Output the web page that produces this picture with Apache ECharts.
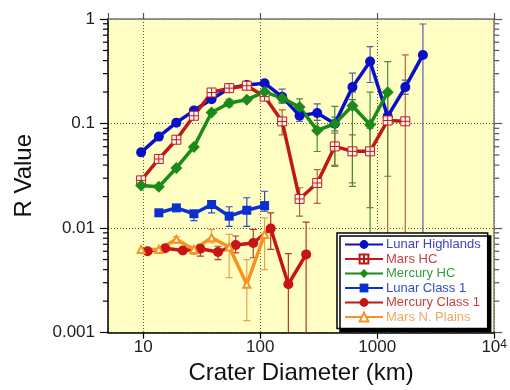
<!DOCTYPE html>
<html>
<head>
<meta charset="utf-8">
<script src="https://cdn.jsdelivr.net/npm/echarts@6/dist/echarts.min.js"></script>
<style>
  html, body { margin: 0; padding: 0; background: #fff; }
  #chart { width: 510px; height: 390px; }
</style>
</head>
<body>
<div id="chart"></div>
<script>
// crater diameter bins (km)
const diamA = [9.6, 13.6, 19.2, 27.1, 38.4, 54.3, 76.8, 109, 154, 217, 307, 434, 614, 869, 1229, 1738, 2458];
const diamB = [10.9, 15.4, 21.8, 30.8, 43.6, 61.7, 87.2, 123, 174, 247];

// R values
const lunarHighlands = [0.053, 0.075, 0.102, 0.133, 0.171, 0.218, 0.234, 0.243, 0.18, 0.119, 0.126, 0.0995, 0.223, 0.392, 0.117, 0.223, 0.453];
const marsHC = [0.0286, 0.0458, 0.070, 0.1187, 0.198, 0.218, 0.23, 0.181, 0.1047, 0.019, 0.027, 0.0604, 0.0542, 0.0542, 0.107, 0.105];
const mercuryHC = [0.0255, 0.0248, 0.0376, 0.0597, 0.1276, 0.157, 0.169, 0.201, 0.175, 0.144, 0.086, 0.0995, 0.148, 0.0974, 0.1995];
const lunarClass1 = [null, 0.014, 0.0156, 0.0137, 0.0168, 0.013, 0.0148, 0.0164];
const mercuryClass1 = [0.006, 0.0064, 0.0061, 0.00635, 0.0059, 0.0069, 0.0072, 0.0099, 0.0029, 0.0056];
const marsNPlains = [0.00625, 0.00625, 0.0078, 0.00625, 0.0081, 0.0066, 0.0029, 0.0087];

// error bars (low / high), null = no bar
const lhLow  = [null, null, null, null, null, null, null, null, 0.157, 0.105, 0.107, 0.085, 0.169, 0.247, 0.105, 0.19, 0.0001];
const lhHigh = [null, null, null, null, null, null, null, null, 0.213, 0.14, 0.154, 0.115, 0.303, 0.544, 0.13, 0.26, 0.896];
const mhLow  = [null, null, null, null, null, null, null, null, 0.078, 0.013, 0.0172, 0.04, 0.027, 0.0157, 0.0001, 0.0001];
const mhHigh = [null, null, null, null, null, null, null, null, 0.135, 0.0243, 0.0362, 0.081, 0.078, 0.09, 0.2, 0.453];
const meLow  = [null, null, null, null, null, 0.145, null, null, 0.16, 0.121, 0.054, 0.039, 0.025, 0.0001, 0.0313];
const meHigh = [null, null, null, null, null, 0.17, null, null, 0.19, 0.172, 0.126, 0.146, 0.2, 0.2, 0.391];
const lcLow  = [null, null, null, 0.0118, 0.014, 0.0104, 0.0104, 0.0145];
const lcHigh = [null, null, null, 0.0145, 0.0181, 0.016, 0.0195, 0.0225];
const mcLow  = [null, null, null, 0.0054, 0.005, 0.0058, 0.0052, 0.00625, 0.0001, 0.0001];
const mcHigh = [null, null, null, 0.007, 0.0067, 0.0084, 0.0097, 0.014, 0.0057, 0.0114];
const mpLow  = [null, null, 0.0072, 0.0056, 0.0072, 0.00336, 0.0013, 0.004];
const mpHigh = [null, null, 0.0083, 0.0067, 0.0097, 0.0087, 0.005, 0.0125];

// axis ticks
const xTickValues = [10, 100, 1000, 10000];
const xTickLabels = ["10", "100", "1000", "10{s|4}"];
const yTickValues = [0.001, 0.01, 0.1, 1];
const yTickLabels = ["0.001", "0.01", "0.1", "1"];
const yMinorTicks = [0.002, 0.003, 0.004, 0.005, 0.006, 0.007, 0.008, 0.009,
  0.02, 0.03, 0.04, 0.05, 0.06, 0.07, 0.08, 0.09,
  0.2, 0.3, 0.4, 0.5, 0.6, 0.7, 0.8, 0.9];

const FONT = "Liberation Sans, Arial, Helvetica, sans-serif";

function pick(values, labels) {
  return (v) => {
    const i = values.findIndex((t) => Math.abs(t - v) / t < 1e-6);
    return i < 0 ? "" : labels[i];
  };
}

function pairs(xs, ys) {
  return ys.map((y, i) => (y == null ? null : [xs[i], y])).filter((d) => d);
}

function errSeries(xs, lows, highs, color) {
  const data = lows
    .map((lo, i) => (lo == null ? null : [xs[i], lo, highs[i]]))
    .filter((d) => d);
  return {
    type: "custom",
    z: 1,
    clip: true,
    silent: true,
    data,
    renderItem(params, api) {
      const lo = api.coord([api.value(0), api.value(1)]);
      const hi = api.coord([api.value(0), api.value(2)]);
      const cap = 3.5;
      const st = { stroke: color, lineWidth: 1.2 };
      return {
        type: "group",
        children: [
          { type: "line", shape: { x1: lo[0], y1: lo[1], x2: hi[0], y2: hi[1] }, style: st },
          { type: "line", shape: { x1: lo[0] - cap, y1: lo[1], x2: lo[0] + cap, y2: lo[1] }, style: st },
          { type: "line", shape: { x1: hi[0] - cap, y1: hi[1], x2: hi[0] + cap, y2: hi[1] }, style: st },
        ],
      };
    },
  };
}

const base = {
  type: "line",
  z: 3,
  lineStyle: { width: 3.5 },
  emphasis: { disabled: true },
};

const squareCross = "path://M0,0L10,0L10,10L0,10Z M5,0L5,10 M0,5L10,5";

const chart = echarts.init(document.getElementById("chart"));
chart.setOption({
  animation: false,
  textStyle: { fontFamily: FONT },
  grid: {
    left: 108, right: 12, top: 19, bottom: 57,
    show: true, backgroundColor: "#ffffc4", borderWidth: 0,
  },
  legend: {
    orient: "vertical",
    left: 337, top: 233,
    padding: [5, 7, 5, 7],
    itemGap: 1.5,
    itemWidth: 38,
    itemHeight: 11,
    backgroundColor: "#fff",
    borderColor: "#000",
    borderWidth: 1.5,
    borderRadius: 0,
    shadowColor: "#000",
    shadowBlur: 0,
    shadowOffsetX: 3,
    shadowOffsetY: 3,
    textStyle: { fontSize: 13, fontFamily: FONT, padding: [0, 0, 0, -2] },
    data: [
      { name: "Lunar Highlands", textStyle: { color: "#4040c0" } },
      { name: "Mars HC", textStyle: { color: "#c84040" } },
      { name: "Mercury HC", textStyle: { color: "#3c9a3c" } },
      { name: "Lunar Class 1", textStyle: { color: "#3050c0" } },
      { name: "Mercury Class 1", textStyle: { color: "#c84040" } },
      { name: "Mars N. Plains", textStyle: { color: "#f0a860" } },
    ],
  },
  xAxis: [
    {
      type: "log", min: 5, max: 10000,
      name: "Crater Diameter (km)",
      nameLocation: "middle", nameGap: 28,
      nameTextStyle: { fontSize: 24, color: "#111", fontFamily: FONT },
      axisLine: { lineStyle: { color: "#000", width: 1.5 } },
      axisTick: { length: 6, lineStyle: { color: "#000", width: 1.2 } },
      axisLabel: {
        fontSize: 17, color: "#222", margin: 6, showMinLabel: false,
        formatter: pick(xTickValues, xTickLabels),
        rich: { s: { fontSize: 12, color: "#222", verticalAlign: "top", padding: [0, 0, 6, 0] } },
      },
      splitLine: { show: true, lineStyle: { color: "#555", type: [1, 2], width: 1 } },
    },
    {
      type: "log", min: 5, max: 10000, position: "top",
      axisLine: { lineStyle: { color: "#777", width: 1.5 } },
      axisTick: { length: 6, lineStyle: { color: "#555", width: 1.2 } },
      axisLabel: { show: false },
      splitLine: { show: false },
    },
  ],
  yAxis: [
    {
      type: "log", min: 0.001, max: 1,
      name: "R Value",
      nameLocation: "middle", nameGap: 72,
      nameTextStyle: { fontSize: 24, color: "#111", fontFamily: FONT },
      axisLine: { lineStyle: { color: "#000", width: 1.5 } },
      axisTick: { length: 8, lineStyle: { color: "#000", width: 1.2 } },
      axisLabel: { fontSize: 17, color: "#222", margin: 13, formatter: pick(yTickValues, yTickLabels) },
      splitLine: { show: true, lineStyle: { color: "#555", type: [1, 2], width: 1 } },
    },
    {
      type: "log", min: 0.001, max: 1, position: "right",
      axisLine: { lineStyle: { color: "#777", width: 1.5 } },
      axisTick: { length: 8, lineStyle: { color: "#555", width: 1.2 } },
      axisLabel: { show: false },
      splitLine: { show: false },
    },
  ],
  series: [
    // minor ticks at 2..9 of each decade, both sides
    {
      type: "custom",
      silent: true,
      z: 5,
      clip: false,
      data: yMinorTicks.map((v) => [10, v]),
      renderItem(params, api) {
        const cs = params.coordSys;
        const y = api.coord([10, api.value(1)])[1];
        return {
          type: "group",
          children: [
            { type: "line", shape: { x1: cs.x - 5, y1: y, x2: cs.x, y2: y }, style: { stroke: "#000", lineWidth: 1.2 } },
            { type: "line", shape: { x1: cs.x + cs.width, y1: y, x2: cs.x + cs.width + 5, y2: y }, style: { stroke: "#555", lineWidth: 1.2 } },
          ],
        };
      },
    },
    errSeries(diamA, lhLow, lhHigh, "#5c5ca8"),
    errSeries(diamA, mhLow, mhHigh, "#b4643c"),
    errSeries(diamA, meLow, meHigh, "#4c8c3c"),
    errSeries(diamA, lcLow, lcHigh, "#2a4ab8"),
    errSeries(diamB, mcLow, mcHigh, "#b03a28"),
    errSeries(diamA, mpLow, mpHigh, "#eca050"),
    {
      ...base, name: "Lunar Highlands",
      data: pairs(diamA, lunarHighlands),
      symbol: "circle", symbolSize: 10,
      lineStyle: { width: 3.5, color: "#0a10c8" },
      itemStyle: { color: "#0a10c8" },
    },
    {
      ...base, name: "Mars HC",
      data: pairs(diamA, marsHC),
      symbol: squareCross, symbolSize: 9,
      lineStyle: { width: 3.5, color: "#c01818" },
      itemStyle: { color: "#fff4f0", borderColor: "#c01818", borderWidth: 1 },
    },
    {
      ...base, name: "Mercury HC",
      data: pairs(diamA, mercuryHC),
      symbol: "diamond", symbolSize: 12,
      lineStyle: { width: 3.5, color: "#1a8a1a" },
      itemStyle: { color: "#1a8a1a" },
    },
    {
      ...base, name: "Lunar Class 1",
      data: pairs(diamA, lunarClass1),
      symbol: "rect", symbolSize: 9,
      lineStyle: { width: 3.5, color: "#0a30d0" },
      itemStyle: { color: "#0a30d0" },
    },
    {
      ...base, name: "Mercury Class 1",
      data: pairs(diamB, mercuryClass1),
      symbol: "circle", symbolSize: 10,
      lineStyle: { width: 3.5, color: "#c81414" },
      itemStyle: { color: "#c81414" },
    },
    {
      ...base, name: "Mars N. Plains",
      data: pairs(diamA, marsNPlains),
      symbol: "emptyTriangle", symbolSize: 7,
      lineStyle: { width: 3.5, color: "#f7931e" },
      itemStyle: { color: "#f7931e", borderColor: "#f7931e" },
    },
  ],
});
</script>
</body>
</html>
